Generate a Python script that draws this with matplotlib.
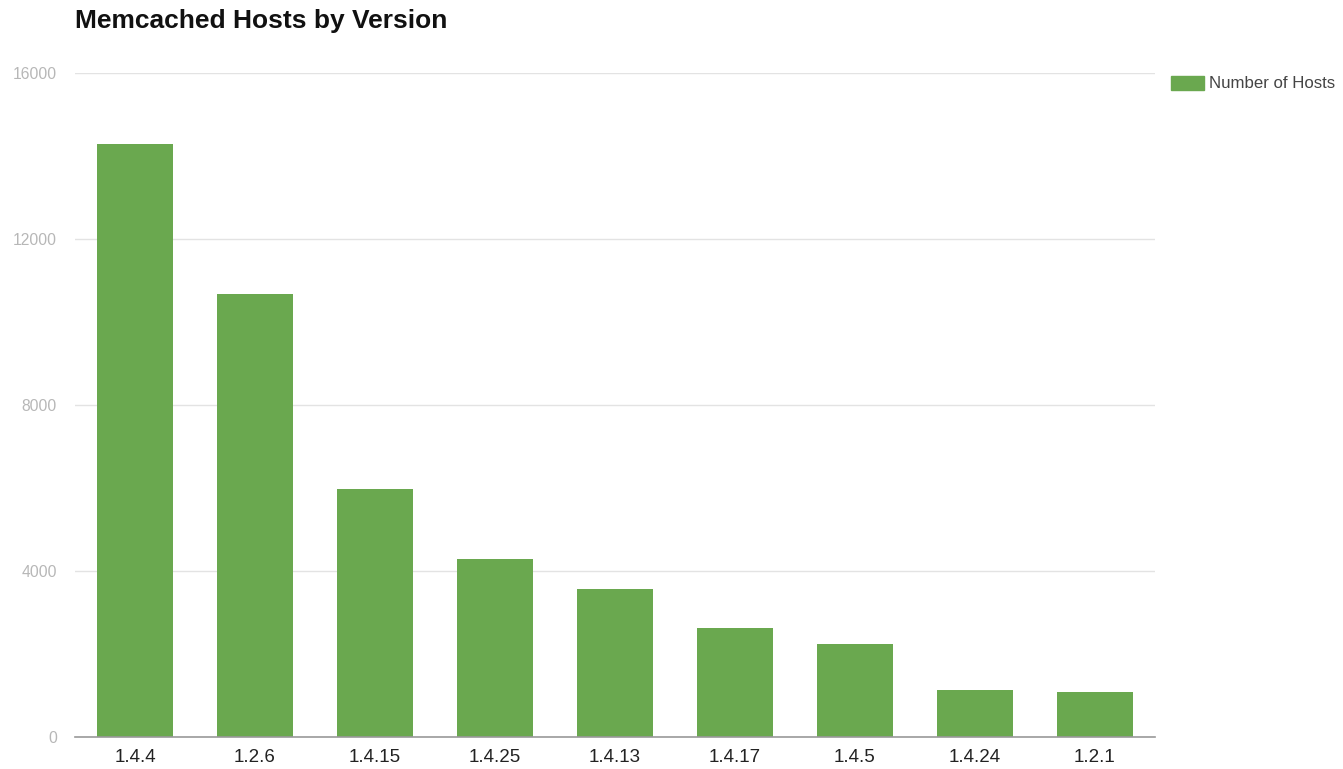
import matplotlib
matplotlib.use('Agg')
import matplotlib.pyplot as plt
import matplotlib.patches as mpatches

# data
versions = ['1.4.4', '1.2.6', '1.4.15', '1.4.25', '1.4.13', '1.4.17', '1.4.5', '1.4.24', '1.2.1']
hosts = [14290, 10670, 5980, 4290, 3570, 2630, 2240, 1130, 1090]
y_ticks = [0, 4000, 8000, 12000, 16000]

bar_color = '#6aa84f'

plt.rcParams['font.family'] = ['Liberation Sans', 'DejaVu Sans']

fig = plt.figure(figsize=(13.43, 7.69), dpi=100)
ax = fig.add_axes([75 / 1343, 1 - 737 / 769, 1080 / 1343, 664 / 769])

x = list(range(len(versions)))
ax.bar(x, hosts, width=0.64, color=bar_color, zorder=3)

ax.set_xlim(-0.5, len(versions) - 0.5)
ax.set_ylim(0, 16000)
ax.set_yticks(y_ticks)
ax.set_yticklabels([str(t) for t in y_ticks], color='#b7b7b7', fontsize=11.3)
ax.set_xticks(x)
ax.set_xticklabels(versions, fontsize=13.5, color='#222222')

ax.grid(axis='y', color='#e3e3e3', linewidth=1, zorder=0)
for s in ['top', 'right', 'left']:
    ax.spines[s].set_visible(False)
ax.spines['bottom'].set_color('#999999')
ax.spines['bottom'].set_linewidth(1.2)
ax.spines['bottom'].set_zorder(4)
ax.tick_params(axis='both', length=0)
ax.tick_params(axis='y', pad=13)
ax.tick_params(axis='x', pad=8.5)

fig.text(75 / 1343, 1 - 21 / 769, 'Memcached Hosts by Version', fontsize=19,
         fontweight='bold', color='#111111', va='center', ha='left')

# legend
handle = mpatches.Patch(color=bar_color, label='Number of Hosts')
fig.legend(handles=[handle], loc='upper left', bbox_to_anchor=(1164 / 1343, 1 - 69 / 769),
           frameon=False, fontsize=12.1, handlelength=2.0, handleheight=0.9,
           handletextpad=0.3, labelcolor='#444444', borderaxespad=0)

fig.savefig('out.png', dpi=100, facecolor='white')
